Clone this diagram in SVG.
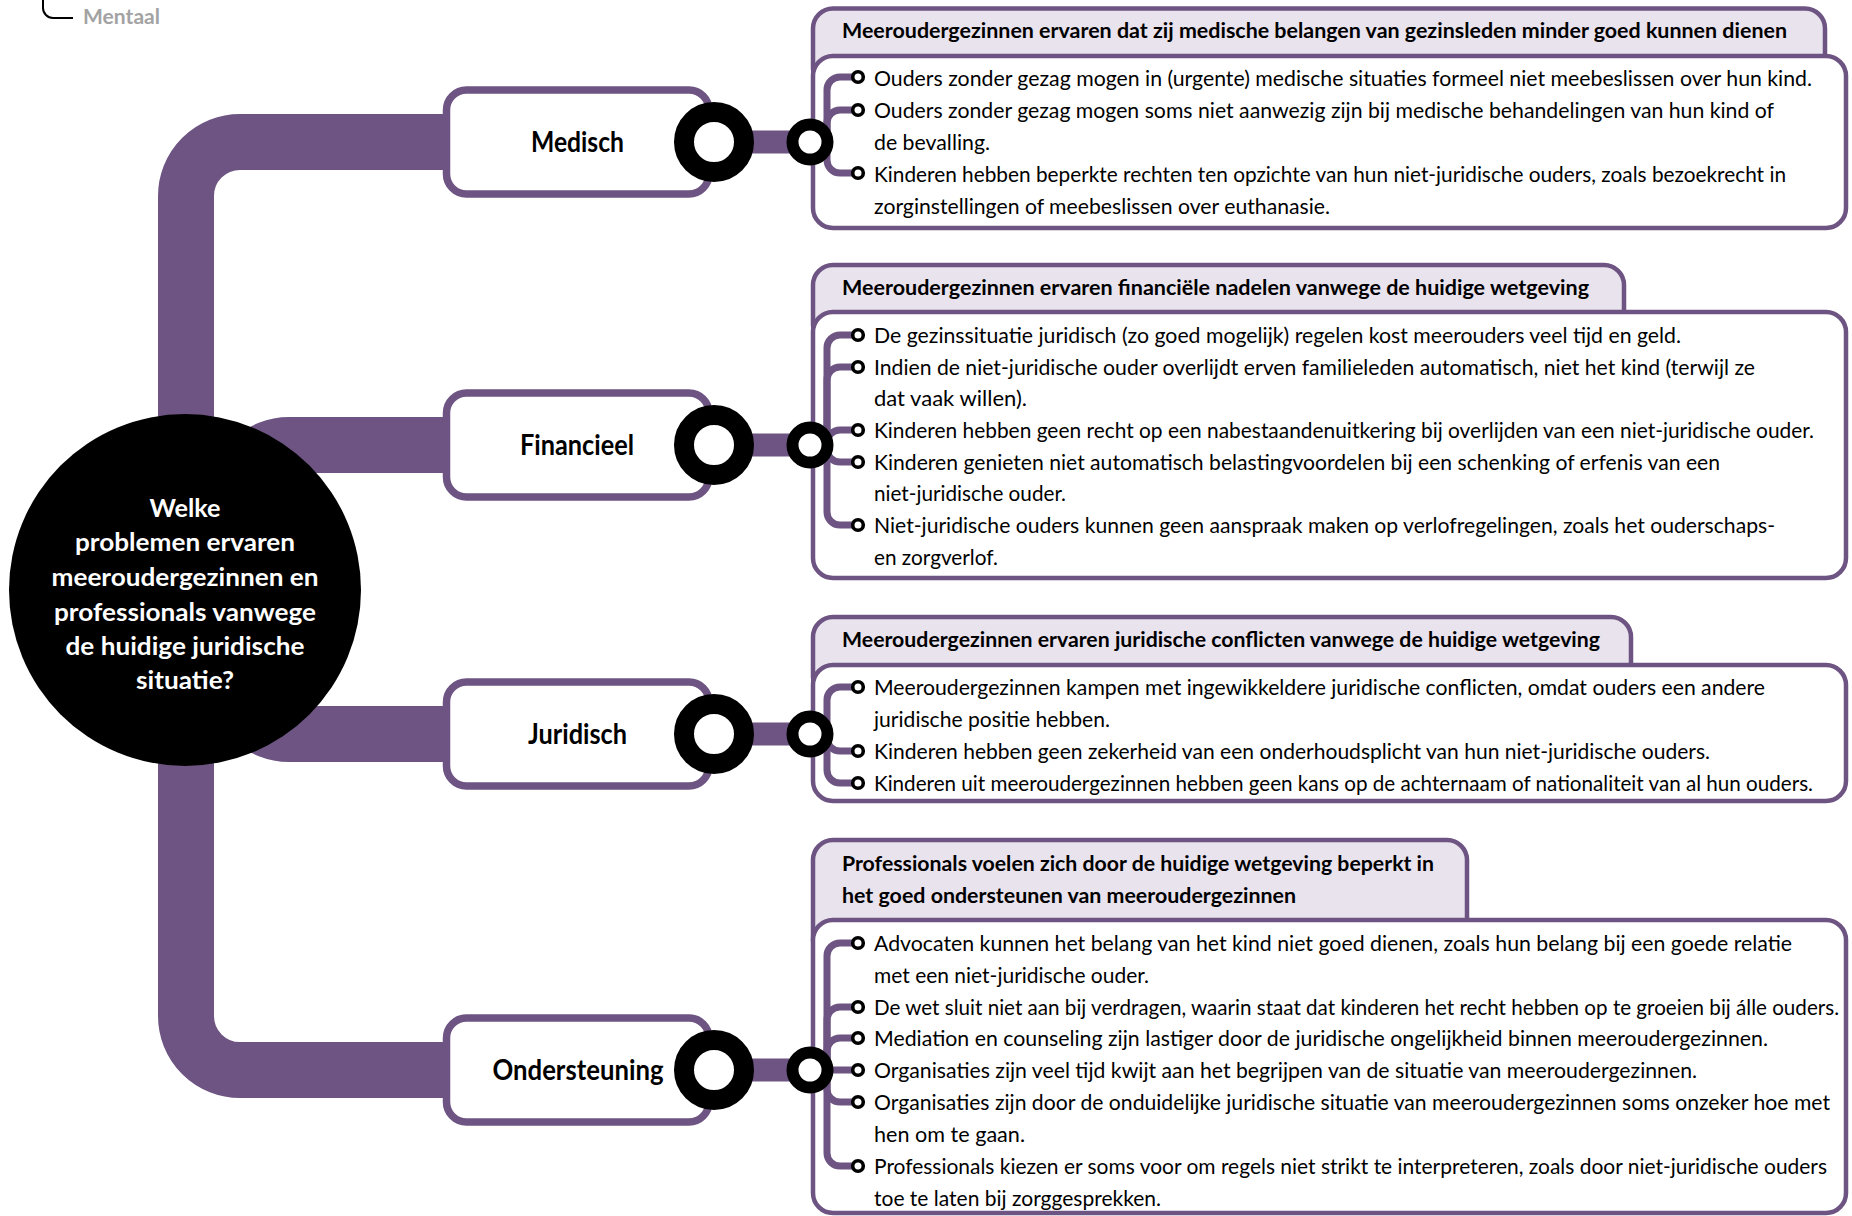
<svg xmlns="http://www.w3.org/2000/svg" width="1852" height="1216" viewBox="0 0 1852 1216">
<style>
.bar{fill:none;stroke:#6d5482;stroke-width:56}
.link{stroke:#6d5482;stroke-width:23}
.cat{fill:#fff;stroke:#6d5482;stroke-width:7.5}
.ring{fill:#fff;stroke:#000;stroke-width:20}
.sring{fill:#fff;stroke:#000;stroke-width:12}
.tab{fill:#e9e3ee;stroke:#6d5482;stroke-width:4.5}
.body{fill:#fff;stroke:#6d5482;stroke-width:4.5}
.br{fill:none;stroke:#6d5482;stroke-width:7}
.dot{fill:#fff;stroke:#000;stroke-width:3.6}
text{font-family:Lato,"Liberation Sans",sans-serif}
.t{font-size:21px;fill:#000}
.h{font-size:21px;font-weight:bold;fill:#000}
.lbl{font-size:28px;font-weight:bold;fill:#000;text-anchor:middle}
.q{font-size:25px;font-weight:bold;fill:#fff;text-anchor:middle}
.ment{font-size:20px;font-weight:bold;fill:#a3a3a3}
</style>

<g id="legend">
<path d="M43 0 V8 A10 10 0 0 0 53 18 H73" fill="none" stroke="#000" stroke-width="2"/>
<text class="ment" x="83" y="24" textLength="77" lengthAdjust="spacingAndGlyphs">Mentaal</text>
</g>

<g id="connectors">
<path class="bar" d="M450 142 H240 A54 54 0 0 0 186 196 V1016 A54 54 0 0 0 240 1070 H450"/>
<path class="bar" d="M235 590 V499 A54 54 0 0 1 289 445 H450"/>
<path class="bar" d="M235 590 V680 A54 54 0 0 0 289 734 H450"/>
<line class="link" x1="740" y1="142" x2="800" y2="142"/>
<line class="link" x1="740" y1="445" x2="800" y2="445"/>
<line class="link" x1="740" y1="734" x2="800" y2="734"/>
<line class="link" x1="740" y1="1070" x2="800" y2="1070"/>
</g>

<g id="center">
<circle cx="185" cy="590" r="176" fill="#000"/>
<text class="q" x="185" y="517" textLength="71" lengthAdjust="spacingAndGlyphs">Welke</text>
<text class="q" x="185" y="551" textLength="220" lengthAdjust="spacingAndGlyphs">problemen ervaren</text>
<text class="q" x="185" y="586" textLength="267" lengthAdjust="spacingAndGlyphs">meeroudergezinnen en</text>
<text class="q" x="185" y="621" textLength="262" lengthAdjust="spacingAndGlyphs">professionals vanwege</text>
<text class="q" x="185" y="655" textLength="239" lengthAdjust="spacingAndGlyphs">de huidige juridische</text>
<text class="q" x="185" y="689" textLength="98" lengthAdjust="spacingAndGlyphs">situatie?</text>
</g>

<g id="cat-medisch">
<rect class="cat" x="446.5" y="90" width="262.5" height="104" rx="20"/>
<text class="lbl" x="577.5" y="152" textLength="93" lengthAdjust="spacingAndGlyphs">Medisch</text>
<circle class="ring" cx="714" cy="142" r="30"/>
</g>
<g id="cat-financieel">
<rect class="cat" x="446.5" y="393" width="262.5" height="104" rx="20"/>
<text class="lbl" x="577" y="455" textLength="114" lengthAdjust="spacingAndGlyphs">Financieel</text>
<circle class="ring" cx="714" cy="445" r="30"/>
</g>
<g id="cat-juridisch">
<rect class="cat" x="446.5" y="682" width="262.5" height="104" rx="20"/>
<text class="lbl" x="577.5" y="744" textLength="99" lengthAdjust="spacingAndGlyphs">Juridisch</text>
<circle class="ring" cx="714" cy="734" r="30"/>
</g>
<g id="cat-ondersteuning">
<rect class="cat" x="446.5" y="1018" width="262.5" height="104" rx="20"/>
<text class="lbl" x="578" y="1080" textLength="171" lengthAdjust="spacingAndGlyphs">Ondersteuning</text>
<circle class="ring" cx="714" cy="1070" r="30"/>
</g>

<g id="detail-medisch">
<rect class="tab" x="813" y="8.5" width="1012" height="80" rx="20"/>
<rect class="body" x="813" y="56" width="1033" height="172" rx="20"/>
<text class="h" x="842" y="38" textLength="945" lengthAdjust="spacingAndGlyphs">Meeroudergezinnen ervaren dat zij medische belangen van gezinsleden minder goed kunnen dienen</text>
<path class="br" d="M810 142 H827 V90 A13 13 0 0 1 840 77 H858"/>
<path class="br" d="M810 142 H827 V123 A13 13 0 0 1 840 110 H858"/>
<path class="br" d="M810 142 H827 V160 A13 13 0 0 0 840 173 H858"/>
<circle class="sring" cx="810" cy="142" r="17.5"/>
<circle class="dot" cx="858" cy="77" r="5.3"/>
<circle class="dot" cx="858" cy="110" r="5.3"/>
<circle class="dot" cx="858" cy="173" r="5.3"/>
<text class="t" x="874" y="86" textLength="938" lengthAdjust="spacingAndGlyphs">Ouders zonder gezag mogen in (urgente) medische situaties formeel niet meebeslissen over hun kind.</text>
<text class="t" x="874" y="118" textLength="900" lengthAdjust="spacingAndGlyphs">Ouders zonder gezag mogen soms niet aanwezig zijn bij medische behandelingen van hun kind of</text>
<text class="t" x="874" y="150" textLength="116" lengthAdjust="spacingAndGlyphs">de bevalling.</text>
<text class="t" x="874" y="182" textLength="912" lengthAdjust="spacingAndGlyphs">Kinderen hebben beperkte rechten ten opzichte van hun niet-juridische ouders, zoals bezoekrecht in</text>
<text class="t" x="874" y="213.5" textLength="456" lengthAdjust="spacingAndGlyphs">zorginstellingen of meebeslissen over euthanasie.</text>
</g>

<g id="detail-financieel">
<rect class="tab" x="813" y="265" width="811" height="80" rx="20"/>
<rect class="body" x="813" y="312" width="1033" height="266" rx="20"/>
<text class="h" x="842" y="295" textLength="747" lengthAdjust="spacingAndGlyphs">Meeroudergezinnen ervaren financiële nadelen vanwege de huidige wetgeving</text>
<path class="br" d="M810 445 H827 V348 A13 13 0 0 1 840 335 H858"/>
<path class="br" d="M810 445 H827 V380 A13 13 0 0 1 840 367 H858"/>
<path class="br" d="M810 445 H827 V443 A13 13 0 0 1 840 430 H858"/>
<path class="br" d="M810 445 H827 V449 A13 13 0 0 0 840 462 H858"/>
<path class="br" d="M810 445 H827 V512 A13 13 0 0 0 840 525 H858"/>
<circle class="sring" cx="810" cy="445" r="17.5"/>
<circle class="dot" cx="858" cy="335" r="5.3"/>
<circle class="dot" cx="858" cy="367" r="5.3"/>
<circle class="dot" cx="858" cy="430" r="5.3"/>
<circle class="dot" cx="858" cy="462" r="5.3"/>
<circle class="dot" cx="858" cy="525" r="5.3"/>
<text class="t" x="874" y="343" textLength="807" lengthAdjust="spacingAndGlyphs">De gezinssituatie juridisch (zo goed mogelijk) regelen kost meerouders veel tijd en geld.</text>
<text class="t" x="874" y="375" textLength="881" lengthAdjust="spacingAndGlyphs">Indien de niet-juridische ouder overlijdt erven familieleden automatisch, niet het kind (terwijl ze</text>
<text class="t" x="874" y="406" textLength="153" lengthAdjust="spacingAndGlyphs">dat vaak willen).</text>
<text class="t" x="874" y="438" textLength="940" lengthAdjust="spacingAndGlyphs">Kinderen hebben geen recht op een nabestaandenuitkering bij overlijden van een niet-juridische ouder.</text>
<text class="t" x="874" y="470" textLength="846" lengthAdjust="spacingAndGlyphs">Kinderen genieten niet automatisch belastingvoordelen bij een schenking of erfenis van een</text>
<text class="t" x="874" y="501" textLength="192" lengthAdjust="spacingAndGlyphs">niet-juridische ouder.</text>
<text class="t" x="874" y="533" textLength="901" lengthAdjust="spacingAndGlyphs">Niet-juridische ouders kunnen geen aanspraak maken op verlofregelingen, zoals het ouderschaps-</text>
<text class="t" x="874" y="565" textLength="124" lengthAdjust="spacingAndGlyphs">en zorgverlof.</text>
</g>

<g id="detail-juridisch">
<rect class="tab" x="813" y="617" width="818" height="80" rx="20"/>
<rect class="body" x="813" y="665" width="1033" height="136" rx="20"/>
<text class="h" x="842" y="647" textLength="758" lengthAdjust="spacingAndGlyphs">Meeroudergezinnen ervaren juridische conflicten vanwege de huidige wetgeving</text>
<path class="br" d="M810 734 H827 V700 A13 13 0 0 1 840 687 H858"/>
<path class="br" d="M810 734 H827 V738 A13 13 0 0 0 840 751 H858"/>
<path class="br" d="M810 734 H827 V770 A13 13 0 0 0 840 783 H858"/>
<circle class="sring" cx="810" cy="734" r="17.5"/>
<circle class="dot" cx="858" cy="687" r="5.3"/>
<circle class="dot" cx="858" cy="751" r="5.3"/>
<circle class="dot" cx="858" cy="783" r="5.3"/>
<text class="t" x="874" y="695" textLength="891" lengthAdjust="spacingAndGlyphs">Meeroudergezinnen kampen met ingewikkeldere juridische conflicten, omdat ouders een andere</text>
<text class="t" x="874" y="727" textLength="236" lengthAdjust="spacingAndGlyphs">juridische positie hebben.</text>
<text class="t" x="874" y="759" textLength="836" lengthAdjust="spacingAndGlyphs">Kinderen hebben geen zekerheid van een onderhoudsplicht van hun niet-juridische ouders.</text>
<text class="t" x="874" y="791" textLength="939" lengthAdjust="spacingAndGlyphs">Kinderen uit meeroudergezinnen hebben geen kans op de achternaam of nationaliteit van al hun ouders.</text>
</g>

<g id="detail-ondersteuning">
<rect class="tab" x="813" y="840" width="654" height="120" rx="20"/>
<rect class="body" x="813" y="920" width="1033" height="293" rx="20"/>
<text class="h" x="842" y="871" textLength="592" lengthAdjust="spacingAndGlyphs">Professionals voelen zich door de huidige wetgeving beperkt in</text>
<text class="h" x="842" y="903" textLength="454" lengthAdjust="spacingAndGlyphs">het goed ondersteunen van meeroudergezinnen</text>
<path class="br" d="M810 1070 H827 V956 A13 13 0 0 1 840 943 H858"/>
<path class="br" d="M810 1070 H827 V1020 A13 13 0 0 1 840 1007 H858"/>
<path class="br" d="M810 1070 H827 V1051 A13 13 0 0 1 840 1038 H858"/>
<path class="br" d="M810 1070 H858"/>
<path class="br" d="M810 1070 H827 V1089 A13 13 0 0 0 840 1102 H858"/>
<path class="br" d="M810 1070 H827 V1153 A13 13 0 0 0 840 1166 H858"/>
<circle class="sring" cx="810" cy="1070" r="17.5"/>
<circle class="dot" cx="858" cy="943" r="5.3"/>
<circle class="dot" cx="858" cy="1007" r="5.3"/>
<circle class="dot" cx="858" cy="1038" r="5.3"/>
<circle class="dot" cx="858" cy="1070" r="5.3"/>
<circle class="dot" cx="858" cy="1102" r="5.3"/>
<circle class="dot" cx="858" cy="1166" r="5.3"/>
<text class="t" x="874" y="951" textLength="918" lengthAdjust="spacingAndGlyphs">Advocaten kunnen het belang van het kind niet goed dienen, zoals hun belang bij een goede relatie</text>
<text class="t" x="874" y="983" textLength="275" lengthAdjust="spacingAndGlyphs">met een niet-juridische ouder.</text>
<text class="t" x="874" y="1015" textLength="965" lengthAdjust="spacingAndGlyphs">De wet sluit niet aan bij verdragen, waarin staat dat kinderen het recht hebben op te groeien bij álle ouders.</text>
<text class="t" x="874" y="1046" textLength="894" lengthAdjust="spacingAndGlyphs">Mediation en counseling zijn lastiger door de juridische ongelijkheid binnen meeroudergezinnen.</text>
<text class="t" x="874" y="1078" textLength="823" lengthAdjust="spacingAndGlyphs">Organisaties zijn veel tijd kwijt aan het begrijpen van de situatie van meeroudergezinnen.</text>
<text class="t" x="874" y="1110" textLength="956" lengthAdjust="spacingAndGlyphs">Organisaties zijn door de onduidelijke juridische situatie van meeroudergezinnen soms onzeker hoe met</text>
<text class="t" x="874" y="1142" textLength="151" lengthAdjust="spacingAndGlyphs">hen om te gaan.</text>
<text class="t" x="874" y="1174" textLength="953" lengthAdjust="spacingAndGlyphs">Professionals kiezen er soms voor om regels niet strikt te interpreteren, zoals door niet-juridische ouders</text>
<text class="t" x="874" y="1206" textLength="287" lengthAdjust="spacingAndGlyphs">toe te laten bij zorggesprekken.</text>
</g>
</svg>
